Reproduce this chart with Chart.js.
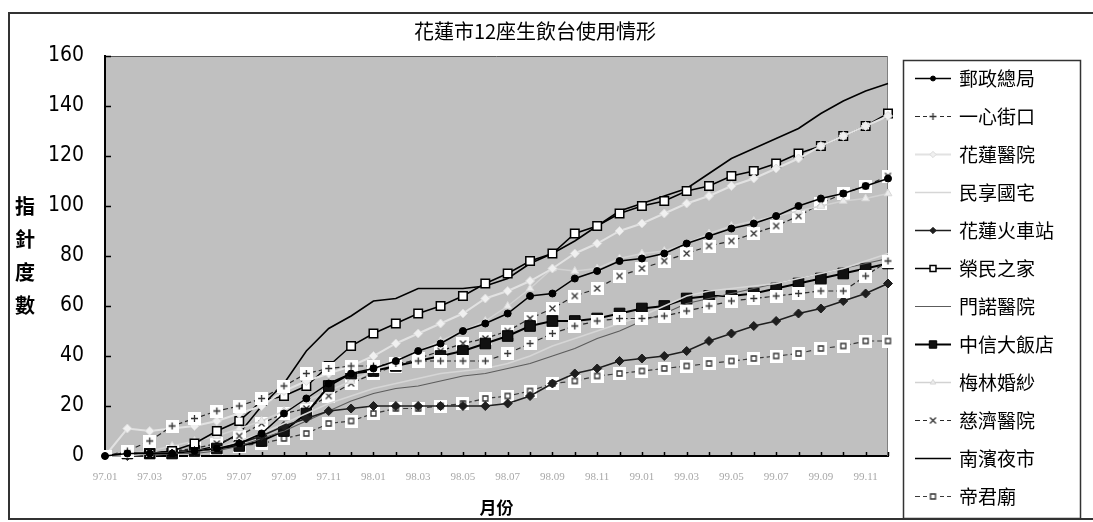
<!DOCTYPE html>
<html>
<head>
<meta charset="utf-8">
<script src="https://cdn.jsdelivr.net/npm/chart.js@4.4.1/dist/chart.umd.min.js"></script>
<style>
  html, body { margin: 0; padding: 0; background: #fff; }
  #wrap { width: 1093px; height: 522px; }
</style>
</head>
<body>
<div id="wrap"><canvas id="c" width="1093" height="522"></canvas></div>
<script>
// Months 97.01 .. 99.12 (ROC calendar)
const MONTHS = [
  '97.01','97.02','97.03','97.04','97.05','97.06','97.07','97.08','97.09','97.10','97.11','97.12',
  '98.01','98.02','98.03','98.04','98.05','98.06','98.07','98.08','98.09','98.10','98.11','98.12',
  '99.01','99.02','99.03','99.04','99.05','99.06','99.07','99.08','99.09','99.10','99.11','99.12'
];

const TITLE = '花蓮市12座生飲台使用情形';
const Y_TITLE = ['指', '針', '度', '數'];
const X_TITLE = '月份';
const Y_TICKS = { min: 0, max: 160, step: 20 };

// Meter readings per drinking fountain
const POST_OFFICE   = [0,1,1,1,2,3,5,9,17,23,29,33,35,38,42,45,50,53,57,64,65,71,74,78,79,81,85,88,91,93,96,100,103,105,108,111];
const YIXIN_JUNC    = [0,2,6,12,15,18,20,23,28,33,35,36,36,37,38,38,38,38,41,45,49,52,54,55,55,56,58,60,62,63,64,65,66,66,72,78];
const HUALIEN_HOSP  = [0,11,10,11,12,14,17,20,26,30,33,36,40,45,49,53,57,63,66,70,75,81,85,90,93,97,101,104,108,111,115,119,124,128,132,136];
const MINXIANG      = [0,0,1,1,2,3,6,9,13,17,21,24,27,29,31,33,34,35,37,40,44,47,50,53,56,60,64,66,67,68,69,71,73,75,78,81];
const STATION       = [0,0,1,1,2,3,5,8,12,15,18,19,20,20,20,20,20,20,21,24,29,33,35,38,39,40,42,46,49,52,54,57,59,62,65,69];
const VETERANS_HOME = [0,1,1,2,5,10,14,22,24,28,36,44,49,53,57,60,64,69,73,78,81,89,92,97,100,102,106,108,112,114,117,121,124,128,132,137];
const MENNONITE     = [0,0,0,1,1,2,4,7,10,14,18,22,25,27,28,30,32,33,35,37,40,43,47,50,54,57,61,63,65,67,69,71,73,75,77,79];
const CHINATRUST    = [0,1,1,1,2,3,4,6,10,17,28,33,34,36,38,40,42,45,48,52,54,54,55,57,59,60,63,64,64,65,67,69,71,73,75,77];
const MEILIN        = [0,1,2,4,6,8,11,14,18,22,26,30,34,38,42,46,50,54,60,67,75,74,75,79,81,82,85,89,92,94,96,98,100,102,103,105];
const TZUCHI        = [0,1,1,2,3,5,8,13,17,19,24,29,33,36,39,42,45,47,50,55,59,64,67,72,75,78,81,84,86,89,92,96,101,105,108,112];
const NANBIN        = [0,1,1,2,2,4,9,20,29,42,51,56,62,63,67,67,67,68,71,77,81,86,92,98,101,104,107,113,119,123,127,131,137,142,146,149];
const DIJUN         = [0,1,1,2,2,3,4,5,7,9,13,14,17,19,19,20,21,23,24,26,29,30,32,33,34,35,36,37,38,39,40,41,43,44,46,46];

const FONT_CJK = '"Noto Sans CJK TC", "Noto Sans CJK SC", sans-serif';
const FONT_NUM = '"Liberation Sans Narrow", "DejaVu Sans Condensed", "Liberation Sans", sans-serif';

// White boxed marker with a small glyph inside
function boxMarker(glyph) {
  const c = document.createElement('canvas');
  c.width = 13; c.height = 13;
  const g = c.getContext('2d');
  g.fillStyle = '#fff';
  g.fillRect(0, 0, 13, 13);
  g.strokeStyle = '#333';
  g.lineWidth = 1.3;
  g.beginPath();
  if (glyph === 'x') { g.moveTo(3.5, 3.5); g.lineTo(9.5, 9.5); g.moveTo(9.5, 3.5); g.lineTo(3.5, 9.5); }
  else if (glyph === '+') { g.moveTo(6.5, 3); g.lineTo(6.5, 10); g.moveTo(3, 6.5); g.lineTo(10, 6.5); }
  else { g.rect(4, 4, 5, 5); }
  g.stroke();
  return c;
}

function series(label, data, style) {
  return Object.assign({
    label, data,
    fill: false, tension: 0, clip: false,
    borderWidth: 1.5, pointRadius: 0, pointBorderWidth: 1,
  }, style);
}

const datasets = [
  series('郵政總局', POST_OFFICE, { borderColor: '#000', pointStyle: 'circle', pointRadius: 3.5, pointBackgroundColor: '#000', pointBorderColor: '#000' }),
  series('一心街口', YIXIN_JUNC, { borderColor: '#2a2a2a', borderWidth: 1.2, borderDash: [5, 3], pointStyle: boxMarker('+'), pointRadius: 6 }),
  series('花蓮醫院', HUALIEN_HOSP, { borderColor: '#e2e2e2', borderWidth: 2, pointStyle: 'rectRot', pointRadius: 4.5, pointBackgroundColor: '#f0f0f0', pointBorderColor: '#dcdcdc' }),
  series('民享國宅', MINXIANG, { borderColor: '#d6d6d6', borderWidth: 1.5 }),
  series('花蓮火車站', STATION, { borderColor: '#1e1e1e', pointStyle: 'rectRot', pointRadius: 4.5, pointBackgroundColor: '#1e1e1e', pointBorderColor: '#1e1e1e' }),
  series('榮民之家', VETERANS_HOME, { borderColor: '#000', pointStyle: 'rect', pointRadius: 6, pointBorderWidth: 1.5, pointBackgroundColor: '#fff', pointBorderColor: '#000' }),
  series('門諾醫院', MENNONITE, { borderColor: '#5c5c5c', borderWidth: 1.2 }),
  series('中信大飯店', CHINATRUST, { borderColor: '#000', borderWidth: 2, pointStyle: 'rect', pointRadius: 7.5, pointBackgroundColor: '#111', pointBorderColor: '#000' }),
  series('梅林婚紗', MEILIN, { borderColor: '#d2d2d2', pointStyle: 'triangle', pointRadius: 4.5, pointBackgroundColor: '#ececec', pointBorderColor: '#d8d8d8' }),
  series('慈濟醫院', TZUCHI, { borderColor: '#2a2a2a', borderWidth: 1.2, borderDash: [5, 3], pointStyle: boxMarker('x'), pointRadius: 6 }),
  series('南濱夜市', NANBIN, { borderColor: '#000', borderWidth: 1.6 }),
  series('帝君廟', DIJUN, { borderColor: '#3a3a3a', borderWidth: 1.2, borderDash: [5, 3], pointStyle: boxMarker('s'), pointRadius: 6 }),
];

// Background, frames, title, inner tick marks and the boxed legend
const decor = {
  id: 'decor',
  beforeDraw(chart) {
    const { ctx, chartArea: a } = chart;
    ctx.save();
    ctx.fillStyle = '#fff';
    ctx.fillRect(0, 0, chart.width, chart.height);
    ctx.fillStyle = '#c0c0c0';
    ctx.fillRect(a.left, a.top, a.right - a.left, a.bottom - a.top);
    ctx.strokeStyle = '#333';
    ctx.lineWidth = 2;
    ctx.strokeRect(9, 13, 1100, 506);

    ctx.fillStyle = '#000';
    ctx.font = '20px ' + FONT_CJK;
    ctx.textAlign = 'center';
    ctx.textBaseline = 'middle';
    ctx.fillText(TITLE, 535, 31);

    ctx.font = 'bold 20px ' + FONT_CJK;
    const cy = (a.top + a.bottom) / 2;
    Y_TITLE.forEach((ch, i) => ctx.fillText(ch, 25, cy + (i - (Y_TITLE.length - 1) / 2) * 33));
    ctx.restore();
  },
  beforeDatasetsDraw(chart) {
    const { ctx, chartArea: a, scales: { x, y } } = chart;
    ctx.save();
    ctx.strokeStyle = '#555';
    ctx.lineWidth = 1;
    ctx.beginPath();
    ctx.moveTo(a.left, a.top + 0.5); ctx.lineTo(a.right, a.top + 0.5);
    ctx.stroke();
    ctx.strokeStyle = '#808080';
    ctx.beginPath();
    ctx.moveTo(a.right - 0.5, a.top); ctx.lineTo(a.right - 0.5, a.bottom);
    ctx.stroke();

    ctx.strokeStyle = '#000';
    ctx.lineWidth = 1.5;
    ctx.beginPath();
    for (let i = 0; i < MONTHS.length; i++) {
      const px = Math.round(x.getPixelForValue(i)) + 0.5;
      ctx.moveTo(px, a.bottom);
      ctx.lineTo(px, a.bottom - 4);
    }
    y.ticks.forEach(t => {
      const py = Math.round(y.getPixelForValue(t.value)) + 0.5;
      ctx.moveTo(a.left, py);
      ctx.lineTo(a.left + 6, py);
    });
    ctx.stroke();
    ctx.restore();
  },
  afterDraw(chart) {
    const { ctx } = chart;
    ctx.save();
    ctx.strokeStyle = '#333';
    ctx.lineWidth = 1.5;
    ctx.strokeRect(903.5, 60.5, 177, 458);

    const top = 78, step = 38;
    chart.data.datasets.forEach((ds, i) => {
      const yy = Math.round(top + i * step) + 0.5;
      ctx.strokeStyle = ds.borderColor;
      ctx.lineWidth = ds.borderWidth;
      ctx.setLineDash(ds.borderDash || []);
      ctx.beginPath();
      ctx.moveTo(915, yy); ctx.lineTo(951, yy);
      ctx.stroke();
      ctx.setLineDash([]);
      if (ds.pointRadius > 0) {
        ctx.fillStyle = ds.pointBackgroundColor || '#fff';
        ctx.strokeStyle = ds.pointBorderColor || ds.borderColor;
        ctx.lineWidth = ds.pointBorderWidth || 1;
        const img = typeof ds.pointStyle === 'object';
        Chart.helpers.drawPoint(ctx, {
          pointStyle: ds.pointStyle,
          radius: img ? ds.pointRadius : ds.pointRadius * 0.7,
          borderWidth: ds.pointBorderWidth || 1,
          rotation: 0
        }, 933, yy);
      }
      ctx.fillStyle = '#000';
      ctx.font = '19px ' + FONT_CJK;
      ctx.textAlign = 'left';
      ctx.textBaseline = 'middle';
      ctx.fillText(ds.label, 959, yy);
    });
    ctx.restore();
  }
};

new Chart(document.getElementById('c'), {
  type: 'line',
  data: { labels: MONTHS, datasets },
  plugins: [decor],
  options: {
    responsive: false,
    animation: false,
    devicePixelRatio: 1,
    layout: { padding: { left: 0, top: 56, right: 205, bottom: 0 } },
    plugins: { legend: { display: false }, title: { display: false }, tooltip: { enabled: false } },
    scales: {
      x: {
        type: 'category',
        offset: false,
        grid: { display: false, drawTicks: false },
        border: { display: true, color: '#000', width: 2 },
        ticks: {
          autoSkip: false, maxRotation: 0, minRotation: 0, padding: 15,
          color: '#a8a8a8',
          font: { family: '"Liberation Serif", serif', size: 11 },
          callback: (v, i) => (i % 2 === 0 ? MONTHS[i] : '')
        },
        title: {
          display: true, text: X_TITLE, color: '#000',
          font: { family: FONT_CJK, size: 17, weight: 'bold' },
          padding: { top: 0, bottom: 4 }
        },
        afterFit(s) { s.height = 66; }
      },
      y: {
        min: Y_TICKS.min, max: Y_TICKS.max,
        grid: { display: false, drawTicks: false },
        border: { display: true, color: '#000', width: 2 },
        ticks: { stepSize: Y_TICKS.step, padding: 21, color: '#000', font: { family: FONT_NUM, size: 21 } },
        afterFit(s) { s.width = 105; }
      }
    }
  }
});
</script>
</body>
</html>
